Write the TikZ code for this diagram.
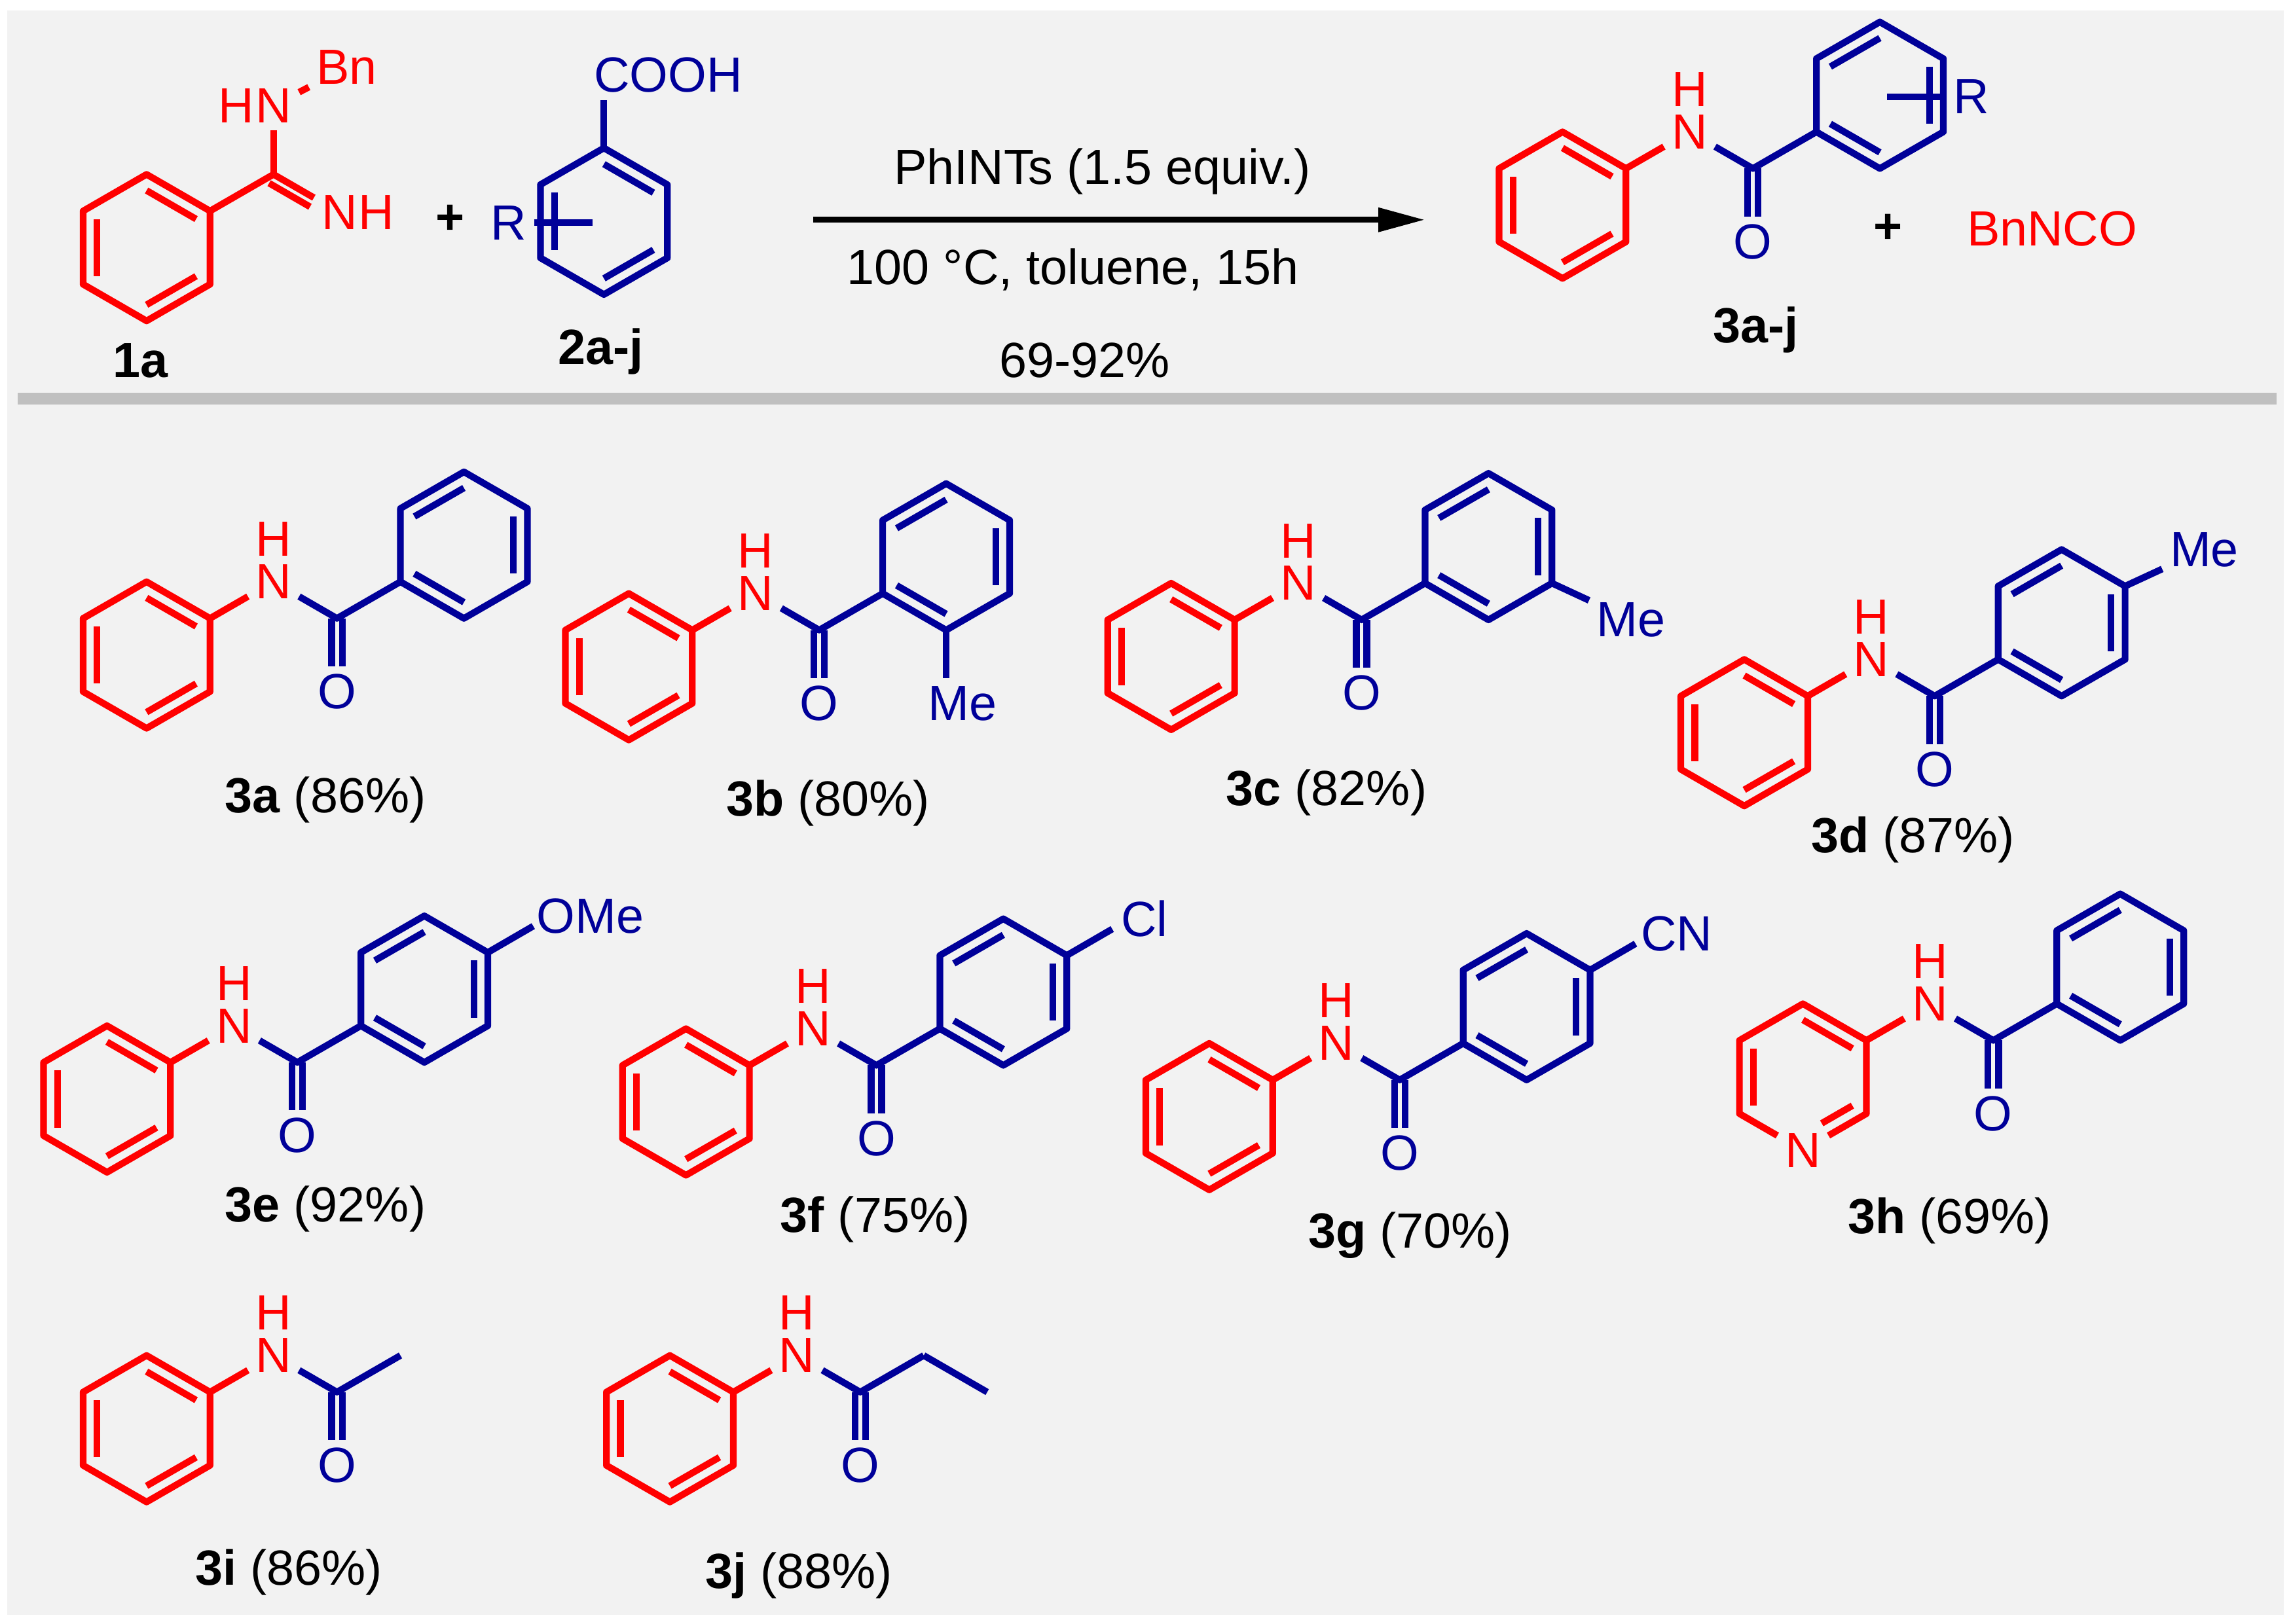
\documentclass[tikz,border=0pt]{standalone}
\usepackage{fontspec}
\setmainfont{Liberation Sans}
\usetikzlibrary{calc,arrows.meta}
\definecolor{cblue}{HTML}{000099}
\definecolor{cred}{HTML}{FF0000}
\definecolor{bgray}{HTML}{F2F2F2}
\definecolor{sepgray}{HTML}{C0C0C0}
\tikzset{
  bond/.style={line width=1.3pt,line join=round},
  atom/.style={inner sep=1.3pt,font=\fontsize{9.6}{11}\selectfont},
  lbl/.style={inner sep=0pt,font=\fontsize{9.6}{11}\selectfont}
}
\newcommand\ringat[2]{%
  \coordinate (#1) at (#2);
  \coordinate (#1-1) at ($(#1)+(0,-50)$);
  \coordinate (#1-2) at ($(#1)+(43.3,-25)$);
  \coordinate (#1-3) at ($(#1)+(43.3,25)$);
  \coordinate (#1-4) at ($(#1)+(0,50)$);
  \coordinate (#1-5) at ($(#1)+(-43.3,25)$);
  \coordinate (#1-6) at ($(#1)+(-43.3,-25)$);
}
\newcommand\hexdraw[2]{\draw[bond,#2] (#1-1)--(#1-2)--(#1-3)--(#1-4)--(#1-5)--(#1-6)--cycle;}
\newcommand\dbl[4]{\draw[bond,#4] ($(#1)!0.78!(#1-#2)$) -- ($(#1)!0.78!(#1-#3)$);}
\newcommand\redring[2]{\ringat{#1r}{#2}\hexdraw{#1r}{cred}%
  \dbl{#1r}{1}{2}{cred}\dbl{#1r}{3}{4}{cred}\dbl{#1r}{5}{6}{cred}}
\newcommand\amidecore[1]{%
  \node[atom,text=cred] (#1N) at ($(#1r-2)+(43.3,-25)$) {N};
  \node[atom,text=cred] (#1H) at ($(#1N)+(0,-29)$) {H};
  \coordinate (#1C) at ($(#1N)+(43.3,25)$);
  \node[atom,text=cblue] (#1O) at ($(#1C)+(0,50)$) {O};
  \coordinate (#1a) at ($(#1C)+(43.3,-25)$);
  \draw[bond,cred] (#1r-2) -- (#1N);
  \draw[bond,cblue] (#1N) -- (#1C) -- (#1a);
  \draw[bond,cblue] ($(#1C)+(-3.6,0)$) -- ($(#1O.north)+(-3.6,0)$);
  \draw[bond,cblue] ($(#1C)+(3.6,0)$) -- ($(#1O.north)+(3.6,0)$);
}
\newcommand\benzoyl[1]{%
  \ringat{#1b}{$(#1a)+(43.3,-25)$}\hexdraw{#1b}{cblue}%
  \dbl{#1b}{6}{1}{cblue}\dbl{#1b}{2}{3}{cblue}\dbl{#1b}{4}{5}{cblue}}
\newcommand\amide[2]{\redring{#1}{#2}\amidecore{#1}}
\begin{document}
\begin{tikzpicture}[x=0.1mm,y=-0.1mm]
\useasboundingbox (0,0) rectangle (1563,1108);
\fill[white] (0,0) rectangle (1563,1108);
\fill[bgray] (5,7) rectangle (1558,1102);
\fill[sepgray] (12,268) rectangle (1553,276);

% ---- header: 1a
\redring{q}{100,169}
\coordinate (qC) at ($(qr-2)+(43.3,-25)$);
\draw[bond,cred] (qr-2) -- (qC);
\node[atom,text=cred] (qN1) at ($(qC)+(0,-47)$) {N};
\node[atom,text=cred,anchor=east,inner sep=0pt] (qH1) at ($(qN1.west)+(5,0)$) {H};
\node[atom,text=cred] (qBn) at ($(qN1)+(50,-26)$) {Bn};
\node[atom,text=cred] (qN2) at ($(qC)+(45,26)$) {N};
\node[atom,text=cred,anchor=west,inner sep=0pt] (qH2) at ($(qN2.east)+(-5,0)$) {H};
\draw[bond,cred] (qC) -- (qN1);
\draw[bond,cred] (qN1) -- (qBn);
\draw[bond,cred] (qC) -- (qN2);
\draw[bond,cred] ($(qC)+(-3,6)$) -- ($($(qC)!0.62!(qN2)$)+(-3,6)$);
\node[lbl] (l1a) at (96,246) {\textbf{1a}};
\node[lbl] (plus1) at (307,150) {\textbf{+}};

% ---- 2a-j
\ringat{sr}{412,151}\hexdraw{sr}{cblue}
\dbl{sr}{5}{6}{cblue}\dbl{sr}{1}{2}{cblue}\dbl{sr}{3}{4}{cblue}
\node[atom,text=cblue,anchor=west] (cooh) at (400,51) {COOH};
\draw[bond,cblue] (sr-1) -- (sr-1 |- cooh.south);
\node[atom,text=cblue] (sR) at (347,152) {R};
\draw[bond,cblue] (sR.east) -- ($(sR.east)+(40,0)$);
\node[lbl] (l2) at (410,240) {\textbf{2a-j}};

% ---- arrow
\coordinate (arS) at (555,150);
\coordinate (arE) at (972,150);
\draw[line width=1.1pt,-{Triangle[length=9pt,width=4.5pt]}] (arS) -- (arE);
\node[lbl] (t1) at (752,117) {PhINTs (1.5 equiv.)};
\node[lbl] (t2) at (732,184) {100 °C, toluene, 15h};
\node[lbl] (t3) at (740,246) {69-92\%};

% ---- product
\amide{p}{1066,140}
\benzoyl{p}
\node[atom,text=cblue] (pR) at (1345,66) {R};
\draw[bond,cblue] (pR.west) -- ($(pR.west)+(-40,0)$);
\node[lbl] (plus2) at (1288,156) {\textbf{+}};
\node[atom,text=cred] (bnnco) at (1400,156) {BnNCO};
\node[lbl] (l3aj) at (1198,225) {\textbf{3a-j}};

% ---- 3a
\amide{a}{100,447}\benzoyl{a}
\node[lbl] at (222,546) {\textbf{3a} (86\%)};
% ---- 3b
\amide{b}{429,455}\benzoyl{b}
\node[atom,text=cblue] (bMe) at ($(bb-4)+(11,50)$) {Me};
\draw[bond,cblue] (bb-4) -- (bb-4 |- bMe.north);
\node[lbl] at (565,548) {\textbf{3b} (80\%)};
% ---- 3c
\amide{c}{799,448}\benzoyl{c}
\node[atom,text=cblue] (cMe) at ($(cb-3)+(54,25)$) {Me};
\draw[bond,cblue] (cb-3) -- (cMe);
\node[lbl] at (905,541) {\textbf{3c} (82\%)};
% ---- 3d
\amide{d}{1190,500}\benzoyl{d}
\node[atom,text=cblue] (dMe) at ($(db-2)+(54,-25)$) {Me};
\draw[bond,cblue] (db-2) -- (dMe);
\node[lbl] at (1305,573) {\textbf{3d} (87\%)};
% ---- 3e
\amide{e}{73,750}\benzoyl{e}
\node[atom,text=cblue] (eOMe) at ($(eb-2)+(70,-25)$) {OMe};
\draw[bond,cblue] (eb-2) -- ($(eb-2)+(31,-18)$);
\node[lbl] at (222,825) {\textbf{3e} (92\%)};
% ---- 3f
\amide{f}{468,752}\benzoyl{f}
\node[atom,text=cblue] (fCl) at ($(fb-2)+(53,-25)$) {Cl};
\draw[bond,cblue] (fb-2) -- ($(fb-2)+(31,-18)$);
\node[lbl] at (597,832) {\textbf{3f} (75\%)};
% ---- 3g
\amide{g}{825,762}\benzoyl{g}
\node[atom,text=cblue] (gCN) at ($(gb-2)+(59,-25)$) {CN};
\draw[bond,cblue] (gb-2) -- ($(gb-2)+(31,-18)$);
\node[lbl] at (962,843) {\textbf{3g} (70\%)};
% ---- 3h
\ringat{hr}{1230,735}
\node[atom,text=cred] (hPy) at (hr-4) {N};
\draw[bond,cred] (hPy) -- (hr-5) -- (hr-6) -- (hr-1) -- (hr-2) -- (hr-3) -- (hPy);
\dbl{hr}{5}{6}{cred}\dbl{hr}{1}{2}{cred}
\draw[bond,cred] ($(hr)!0.78!(hr-3)$) -- ($($(hr)!0.78!(hr-3)$)!0.62!($(hr)!0.78!(hr-4)$)$);
\amidecore{h}\benzoyl{h}
\node[lbl] at (1330,833) {\textbf{3h} (69\%)};
% ---- 3i
\amide{i}{100,975}
\node[lbl] at (197,1073) {\textbf{3i} (86\%)};
% ---- 3j
\amide{j}{457,975}
\coordinate (jE) at ($(ja)+(43.3,25)$);
\draw[bond,cblue] (ja) -- (jE);
\node[lbl] at (545,1075) {\textbf{3j} (88\%)};
\end{tikzpicture}
\end{document}
